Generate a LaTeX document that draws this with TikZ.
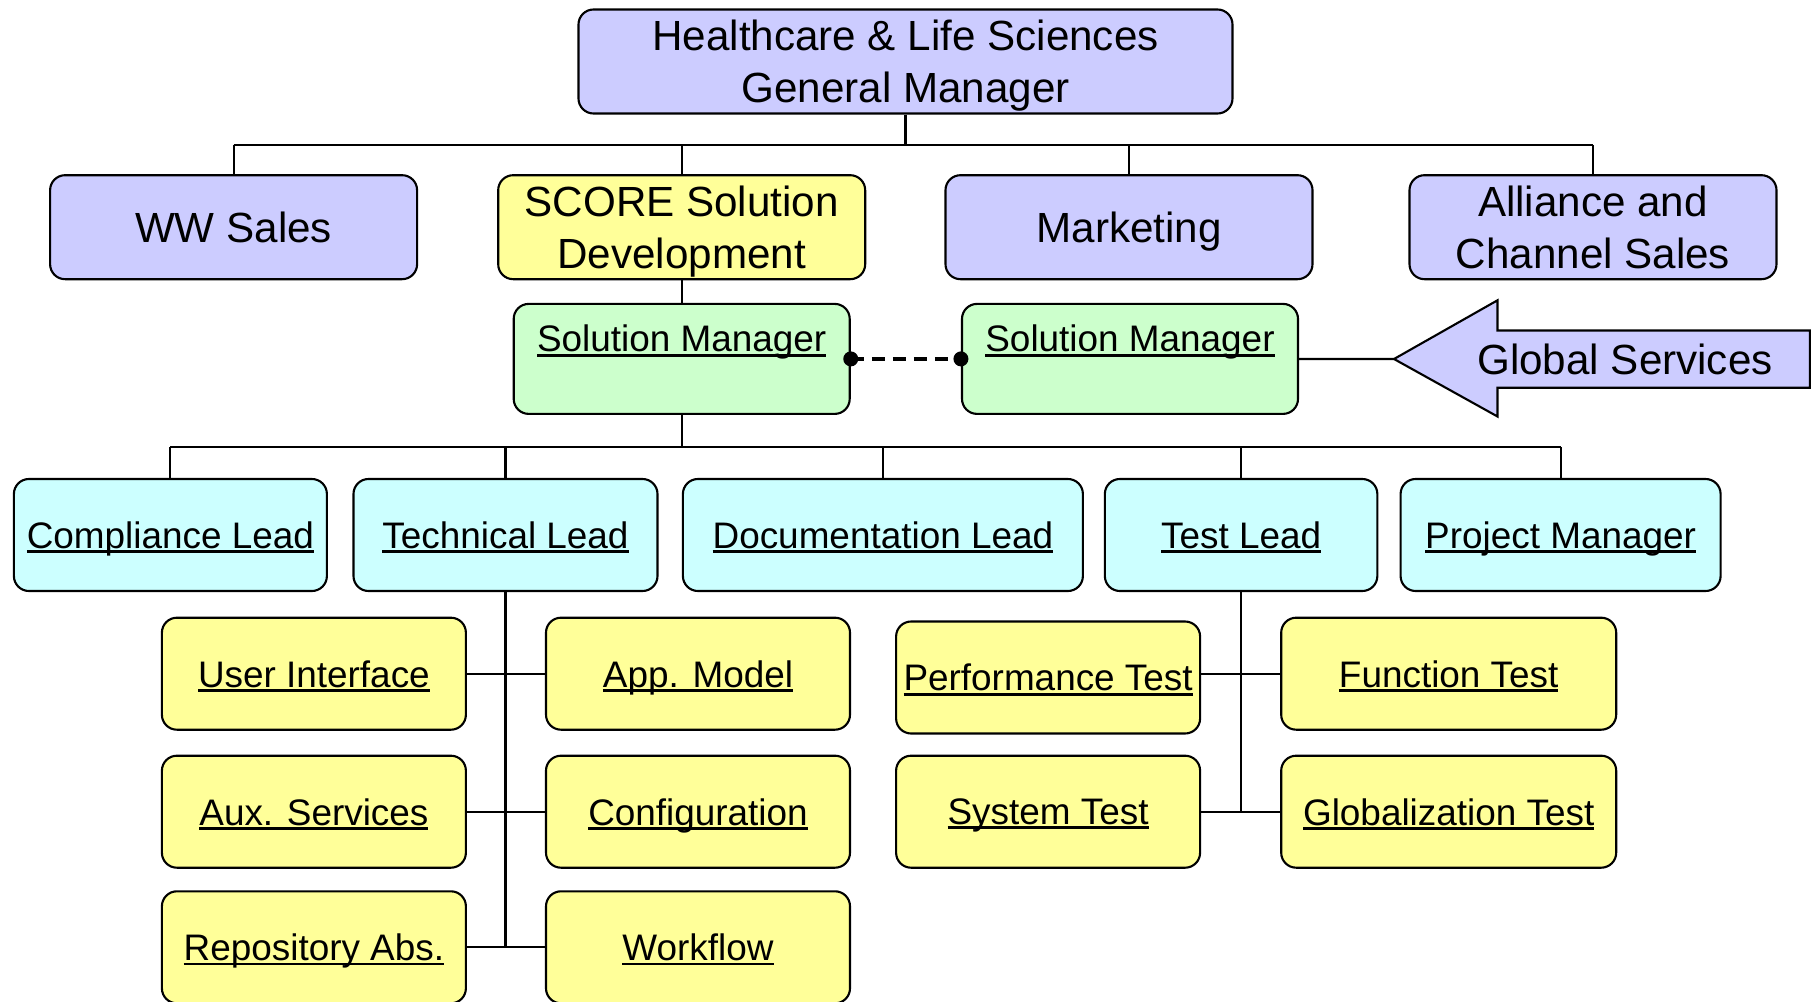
\documentclass[tikz,border=0pt]{standalone}
\usepackage{fontspec}
\setmainfont{Liberation Sans}
\usetikzlibrary{arrows,calc,shapes}
\tikzset{>=latex}
\definecolor{hlsblue}{HTML}{CCCCFF}
\definecolor{hlsyellow}{HTML}{FFFF99}
\definecolor{hlsgreen}{HTML}{CCFFCC}
\definecolor{hlscyan}{HTML}{CCFFFF}
\newcommand{\ulab}[1]{\leavevmode\setbox0\hbox{#1}\rlap{\rule[-0.13em]{\wd0}{0.08em}}\box0}
\tikzstyle{unit}=[rectangle,draw=black,line width=0.6pt,rounded corners=0.15cm,inner sep=0pt,align=center,text depth=0pt]
\tikzstyle{head}=[unit,fill=hlsblue,minimum width=6.54cm,minimum height=1.04cm,font=\fontsize{12}{14.7}\selectfont]
\tikzstyle{dept}=[unit,fill=hlsblue,minimum width=3.67cm,minimum height=1.04cm,font=\fontsize{12}{14.7}\selectfont]
\tikzstyle{devel}=[dept,fill=hlsyellow]
\tikzstyle{mgr}=[unit,fill=hlsgreen,minimum width=3.36cm,minimum height=1.10cm]
\tikzstyle{lead}=[unit,fill=hlscyan,minimum height=1.12cm,font=\fontsize{10.5}{12.6}\selectfont]
\tikzstyle{task}=[unit,fill=hlsyellow,minimum width=3.04cm,minimum height=1.12cm,font=\fontsize{10.5}{12.6}\selectfont]
\tikzstyle{conn}=[draw=black,line width=0.6pt]
\tikzstyle{dotline}=[draw=black,line width=1.3pt,dash pattern=on 0.13cm off 0.08cm]
\tikzstyle{gsarrow}=[draw=black,fill=hlsblue,line width=0.6pt,line join=miter]

\begin{document}
\begin{tikzpicture}[inner sep=0pt]
    \useasboundingbox (0,0) rectangle (18.18,-10.02);

    \node[head] (gm) at (9.055,-0.615) {Healthcare \& Life Sciences\\General Manager};
    \node[dept] (wws) at (2.336,-2.272) {WW Sales};
    \node[devel] (score) at (6.817,-2.272) {SCORE Solution\\Development};
    \node[dept] (mkt) at (11.29,-2.272) {Marketing};
    \node[dept] (acs) at (15.93,-2.272) {Alliance and\\Channel Sales};

    \coordinate (bus1) at (9.055,-1.45);
    \draw[conn] (gm) -- (bus1);
    \draw[conn] (wws.north |- bus1) -- (acs.north |- bus1);
    \foreach \d in {wws,score,mkt,acs} {
        \draw[conn] (\d.north |- bus1) -- (\d);
    };

    % solution managers
    \node[mgr] (sm1) at (6.817,-3.589) {};
    \node[mgr] (sm2) at (11.30,-3.589) {};
    \node[anchor=base,font=\fontsize{10.5}{12.6}\selectfont] (sm1t) at ($(sm1.north)+(0,-0.49)$) {\ulab{Solution Manager}};
    \node[anchor=base,font=\fontsize{10.5}{12.6}\selectfont] (sm2t) at ($(sm2.north)+(0,-0.49)$) {\ulab{Solution Manager}};
    \draw[conn] (score) -- (sm1);
    \draw[dotline] (sm1.east) -- (sm2.west);
    \fill (sm1.east) circle (0.075);
    \fill (sm2.west) circle (0.075);

    \coordinate (gstip) at (13.94,-3.59);
    \draw[gsarrow] (gstip) -- (14.975,-3.003) -- (14.975,-3.305) -- (18.098,-3.305)
        -- (18.098,-3.877) -- (14.975,-3.877) -- (14.975,-4.165) -- cycle;
    \node[font=\fontsize{12}{14.7}\selectfont,text depth=0pt] (gs) at (16.25,-3.59) {Global Services};
    \draw[conn] (sm2) -- (gstip);

    % leads
    \foreach \n/\x/\w/\t in {cl/1.704/3.13/Compliance Lead, tl/5.055/3.04/Technical Lead,
        dl/8.829/4.00/Documentation Lead, tstl/12.411/2.725/Test Lead, pm/15.606/3.20/Project Manager} {
        \node[lead,minimum width=\w cm] (\n) at (\x,-5.35) {\ulab{\t}};
    };
    \coordinate (bus2) at (6.817,-4.47);
    \draw[conn] (sm1) -- (bus2);
    \draw[conn] (cl.north |- bus2) -- (pm.north |- bus2);
    \foreach \l in {cl,tl,dl,tstl,pm} {
        \draw[conn] (\l.north |- bus2) -- (\l);
    };

    % technical lead group
    \foreach \n/\x/\y/\t in {la1/3.139/-6.737/User Interface, ra1/6.98/-6.737/App. Model,
        la2/3.139/-8.117/Aux. Services, ra2/6.98/-8.117/Configuration,
        la3/3.139/-9.473/Repository Abs., ra3/6.98/-9.473/Workflow} {
        \node[task] (\n) at (\x,\y) {\ulab{\t}};
    };
    \coordinate (tlend) at (5.055,-9.473);
    \draw[conn] (tl) -- (tlend);
    \foreach \i in {1,...,3} {
        \draw[conn] (la\i) -- (ra\i);
    };

    % test lead group
    \node[task] (pt) at (10.481,-6.775) {\ulab{Performance Test}};
    \node[task] (st) at (10.481,-8.117) {\ulab{System Test}};
    \node[task,minimum width=3.35cm] (ft) at (14.487,-6.737) {\ulab{Function Test}};
    \node[task,minimum width=3.35cm] (gt) at (14.487,-8.117) {\ulab{Globalization Test}};
    \coordinate (tsend) at (12.406,-8.117);
    \draw[conn] (tstl.south -| tsend) -- (tsend);
    \draw[conn] (pt.east |- ft.west) -- (ft.west);
    \draw[conn] (st) -- (gt);
\end{tikzpicture}
\end{document}
